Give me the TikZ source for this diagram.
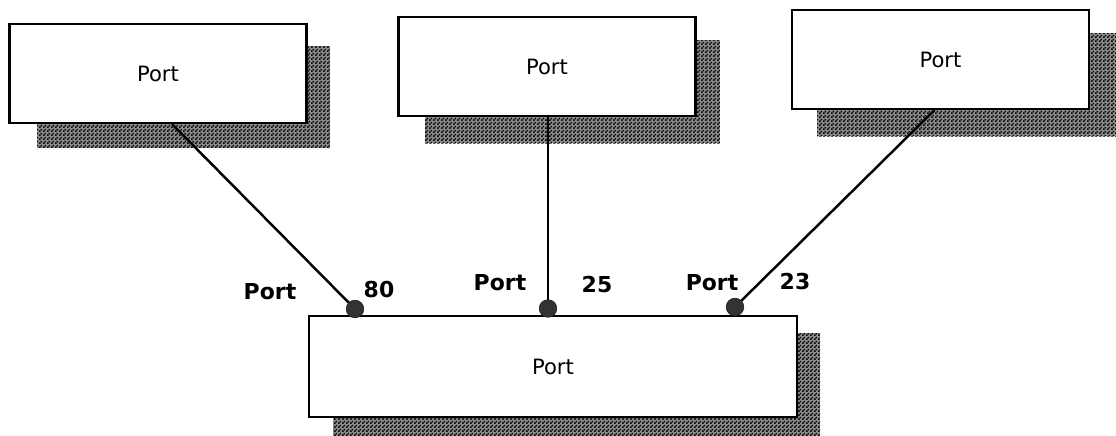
\documentclass[tikz,border=0pt]{standalone}
\usepackage{fontspec}
\setmainfont{DejaVu Sans}
\usetikzlibrary{patterns,calc}
\pgfdeclarepatternformonly{checker}{\pgfpointorigin}{\pgfqpoint{2pt}{2pt}}{\pgfqpoint{2pt}{2pt}}{%
  \pgfpathrectangle{\pgfpointorigin}{\pgfqpoint{1pt}{1pt}}%
  \pgfpathrectangle{\pgfqpoint{1pt}{1pt}}{\pgfqpoint{1pt}{1pt}}%
  \pgfusepath{fill}}
\tikzset{
  box/.style={draw=black, fill=white, line width=1.2pt, minimum width=5.94cm, minimum height=1.98cm, inner sep=0pt, font=\fontsize{12}{14}\selectfont},
  shade/.style={fill=black!45, postaction={pattern=checker, pattern color=black}},
  port/.style={circle, fill=black!80, draw=black!85, minimum size=10pt, inner sep=0pt},
  lbl/.style={font=\fontsize{12.5}{14}\selectfont\bfseries, inner sep=0pt},
  link/.style={line width=1.4pt, black}
}
\begin{document}
\begin{tikzpicture}[x=0.02cm,y=-0.02cm]
\useasboundingbox (0,0) rectangle (1116,436);
% shadows
\path[shade] (37,46) rectangle (330,148);
\path[shade] (425,40) rectangle (720,143);
\path[shade] (817,33) rectangle (1116,136);
\path[shade] (333,333) rectangle (820,436);
% boxes
\node[box] (b1) at (158,73.5) {Port};
\node[box] (b2) at (547,66.5) {Port};
\node[box] (b3) at (940.5,59.5) {Port};
\node[box, minimum width=9.76cm, minimum height=2.02cm] (b4) at (553,366.5) {Port};
% port anchors
\coordinate (d1) at (355,309);
\coordinate (d2) at (548,308.5);
\coordinate (d3) at (735,307);
% connectors
\draw[link] ($(b1.south west)!0.547!(b1.south east)$) -- (d1);
\draw[link] (b2.south -| d2) -- (d2);
\draw[link] ($(b3.south west)!0.48!(b3.south east)$) -- (d3);
% ports
\node[port] (p1) at (d1) {};
\node[port] (p2) at (d2) {};
\node[port] (p3) at (d3) {};
% labels
\node[lbl] (l1) at (270,292) {Port};
\node[lbl] (n1) at (379,290) {80};
\node[lbl] (l2) at (500,283) {Port};
\node[lbl] (n2) at (597,285) {25};
\node[lbl] (l3) at (712,283) {Port};
\node[lbl] (n3) at (795,282) {23};
\end{tikzpicture}
\end{document}
